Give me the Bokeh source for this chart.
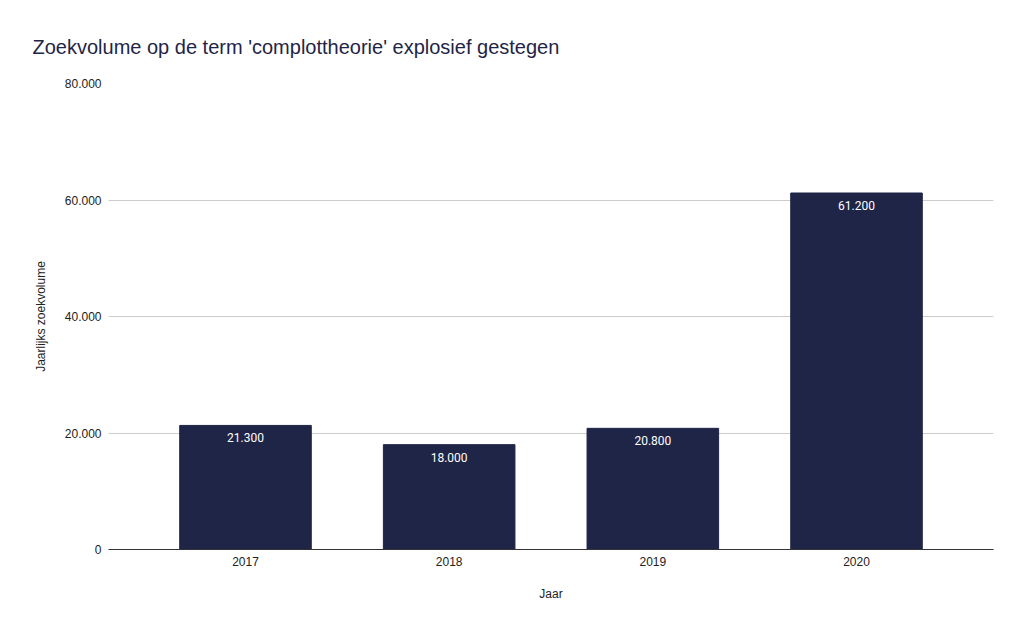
from bokeh.plotting import figure
from bokeh.models import ColumnDataSource, FixedTicker, Range1d
from bokeh.embed import file_html
from bokeh.resources import INLINE

years = ["2017", "2018", "2019", "2020"]
volumes = [21300, 18000, 20800, 61200]
value_labels = ["21.300", "18.000", "20.800", "61.200"]
y_ticks = [0, 20000, 40000, 60000, 80000]
y_tick_labels = ["0", "20.000", "40.000", "60.000", "80.000"]

BAR = "#1f2547"
xs = list(range(len(years)))
src = ColumnDataSource(dict(x=xs, top=volumes, lab=value_labels))

p = figure(width=1025, height=633, output_backend="svg", toolbar_location=None,
           x_range=Range1d(-0.6726, 3.6726), y_range=Range1d(0, 80000),
           min_border_left=108, min_border_right=32, min_border_top=83, min_border_bottom=84)
p.title.text = "Zoekvolume op de term 'complottheorie' explosief gestegen"
p.title.text_font = "Liberation Sans"
p.title.text_font_size = "20px"
p.title.text_font_style = "normal"
p.title.text_color = BAR
p.title.offset = -76
p.title.standoff = 51
p.outline_line_color = None

p.vbar(x="x", top="top", width=0.646, source=src, fill_color=BAR, line_color=BAR)
p.text(x="x", y="top", text="lab", source=src, text_color="white",
       text_align="center", text_baseline="top", y_offset=8,
       text_font_size="12px", text_font={"value": "Roboto"})

# y axis
p.yaxis.ticker = FixedTicker(ticks=y_ticks)
p.yaxis.major_label_overrides = {t: l for t, l in zip(y_ticks, y_tick_labels)}
p.yaxis.axis_line_color = None
p.yaxis.major_tick_line_color = None
p.yaxis.minor_tick_line_color = None
p.yaxis.major_tick_out = 0
p.yaxis.minor_tick_out = 0
p.yaxis.major_label_standoff = 7
p.yaxis.major_label_text_font = "Liberation Sans"
p.yaxis.major_label_text_font_size = "12px"
p.yaxis.major_label_text_color = "#222222"
p.yaxis.axis_label = "Jaarlijks zoekvolume"
p.yaxis.axis_label_text_font = "Liberation Sans"
p.yaxis.axis_label_text_font_size = "12px"
p.yaxis.axis_label_text_font_style = "normal"
p.yaxis.axis_label_text_color = "#222222"
p.yaxis.axis_label_standoff = 14

# x axis
p.xaxis.ticker = FixedTicker(ticks=xs)
p.xaxis.major_label_overrides = {i: y for i, y in zip(xs, years)}
p.xaxis.axis_line_color = "#333333"
p.xaxis.major_tick_line_color = None
p.xaxis.minor_tick_line_color = None
p.xaxis.major_tick_out = 0
p.xaxis.minor_tick_out = 0
p.xaxis.major_label_standoff = 7
p.xaxis.major_label_text_font = "Liberation Sans"
p.xaxis.major_label_text_font_size = "12px"
p.xaxis.major_label_text_color = "#222222"
p.xaxis.axis_label = "Jaar"
p.xaxis.axis_label_text_font = "Liberation Sans"
p.xaxis.axis_label_text_font_size = "12px"
p.xaxis.axis_label_text_font_style = "normal"
p.xaxis.axis_label_text_color = "#222222"
p.xaxis.axis_label_standoff = 18

p.xgrid.grid_line_color = None
p.ygrid.grid_line_color = "#cccccc"

open("out.html", "w").write(file_html(p, INLINE))
